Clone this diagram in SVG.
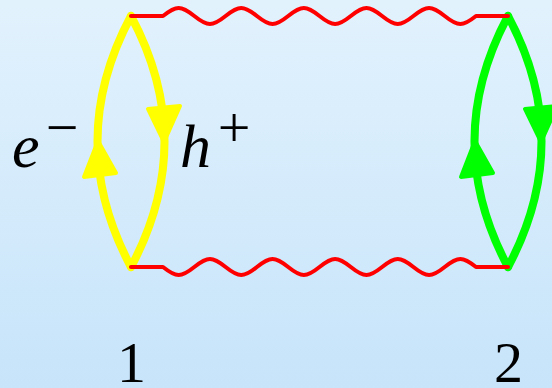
<svg xmlns="http://www.w3.org/2000/svg" width="552" height="388" viewBox="0 0 552 388">
  <defs>
    <linearGradient id="bg" x1="0" y1="0" x2="0" y2="1">
      <stop offset="0" stop-color="#e2f2fd"/>
      <stop offset="1" stop-color="#c7e4fa"/>
    </linearGradient>
    <style>
      .loop { fill: none; stroke-width: 8; stroke-linecap: round; }
      .head { stroke-width: 4; stroke-linejoin: round; }
      .yellow { stroke: #ffff00; }
      .yfill { fill: #ffff00; stroke: #ffff00; }
      .green { stroke: #00ff00; }
      .gfill { fill: #00ff00; stroke: #00ff00; }
      .photon { fill: none; stroke: #ff0000; stroke-width: 4; stroke-linecap: round; stroke-linejoin: round; }
      .math { font-family: "Liberation Serif", "Times New Roman", serif; font-style: italic; font-size: 62px; fill: #000; }
      .rm { font-family: "Liberation Serif", "Times New Roman", serif; font-size: 58px; fill: #000; }
      .num { font-family: "Liberation Serif", "Times New Roman", serif; font-size: 58px; fill: #000; text-anchor: middle; }
    </style>
  </defs>
  <rect x="0" y="0" width="552" height="388" fill="url(#bg)"/>

  <g id="node1">
    <path class="loop yellow" d="M131,16 Q64,141.5 131,267"/>
    <path class="loop yellow" d="M131,16 Q198,141.5 131,267"/>
    <polygon class="head yfill" points="98,141 84,177 116,173"/>
    <polygon class="head yfill" points="164,142 148,109 180,106"/>
    <text class="math" x="12" y="167">e</text>
    <text class="rm" x="62" y="147" text-anchor="middle">−</text>
    <text class="math" x="180" y="167">h</text>
    <text class="rm" x="234" y="147" text-anchor="middle">+</text>
    <text class="num" x="131.5" y="382">1</text>
  </g>

  <g id="node2">
    <path class="loop green" d="M508,16 Q441,141.5 508,267"/>
    <path class="loop green" d="M508,16 Q575,141.5 508,267"/>
    <polygon class="head gfill" points="475,141 461,177 493,173"/>
    <polygon class="head gfill" points="541,142 525,109 557,106"/>
    <text class="num" x="508.5" y="382">2</text>
  </g>

  <g id="connectors">
    <path class="photon" d="M131,16 H163 c13.28,-10.67 18.02,-10.67 31.3,0 s18.02,10.67 31.3,0 s18.02,-10.67 31.3,0 s18.02,10.67 31.3,0 s18.02,-10.67 31.3,0 s18.02,10.67 31.3,0 s18.02,-10.67 31.3,0 s18.02,10.67 31.3,0 s18.02,-10.67 31.3,0 s18.02,10.67 31.3,0 H508"/>
    <path class="photon" d="M131,267 H163 c13.28,10.67 18.02,10.67 31.3,0 s18.02,-10.67 31.3,0 s18.02,10.67 31.3,0 s18.02,-10.67 31.3,0 s18.02,10.67 31.3,0 s18.02,-10.67 31.3,0 s18.02,10.67 31.3,0 s18.02,-10.67 31.3,0 s18.02,10.67 31.3,0 s18.02,-10.67 31.3,0 H508"/>
  </g>
</svg>
